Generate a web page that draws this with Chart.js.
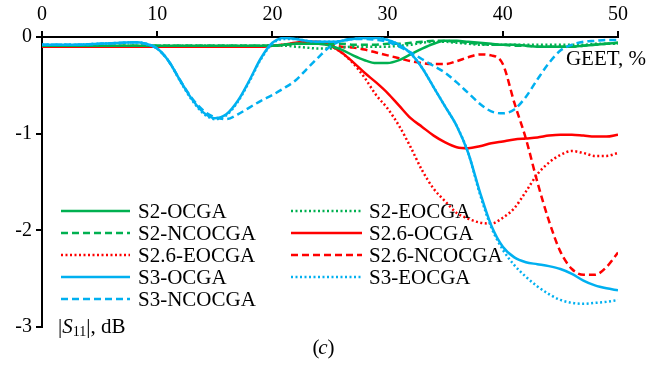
<!DOCTYPE html>
<html>
<head>
<meta charset="utf-8">
<script src="https://cdn.jsdelivr.net/npm/chart.js"></script>
<style>
  body { margin: 0; background: #fff; }
  #wrap { width: 646px; height: 371px; }
</style>
</head>
<body>
<div id="wrap"><canvas id="myChart" width="646" height="371"></canvas></div>
<script>
// GEET, % (x axis), sampled every 1 %
const geet = [];
for (let i = 0; i <= 50; i++) geet.push(i);

// |S11|, dB
const s2Ocga = [-0.09,-0.09,-0.09,-0.09,-0.09,-0.09,-0.09,-0.09,-0.09,-0.09,
  -0.09,-0.09,-0.09,-0.09,-0.09,-0.09,-0.09,-0.09,-0.09,-0.09,
  -0.09,-0.08,-0.07,-0.07,-0.07,-0.09,-0.13,-0.19,-0.24,-0.27,
  -0.27,-0.24,-0.18,-0.12,-0.07,-0.04,-0.04,-0.05,-0.06,-0.07,
  -0.08,-0.08,-0.09,-0.1,-0.1,-0.1,-0.1,-0.09,-0.08,-0.07,-0.06];
const s2Eocga = [-0.09,-0.09,-0.09,-0.09,-0.09,-0.09,-0.09,-0.09,-0.09,-0.09,
  -0.09,-0.09,-0.09,-0.09,-0.09,-0.09,-0.09,-0.09,-0.09,-0.09,
  -0.09,-0.09,-0.1,-0.11,-0.12,-0.12,-0.11,-0.1,-0.1,-0.1,
  -0.1,-0.09,-0.08,-0.06,-0.05,-0.05,-0.06,-0.07,-0.08,-0.08,
  -0.08,-0.08,-0.08,-0.08,-0.08,-0.08,-0.08,-0.08,-0.07,-0.07,-0.07];
const s2Ncocga = [-0.09,-0.09,-0.09,-0.09,-0.09,-0.09,-0.09,-0.09,-0.09,-0.09,
  -0.09,-0.09,-0.09,-0.09,-0.09,-0.09,-0.09,-0.09,-0.09,-0.09,
  -0.09,-0.08,-0.07,-0.07,-0.07,-0.07,-0.07,-0.08,-0.08,-0.08,
  -0.07,-0.07,-0.06,-0.05,-0.04,-0.04,-0.05,-0.06,-0.07,-0.08,
  -0.08,-0.09,-0.09,-0.1,-0.1,-0.1,-0.1,-0.09,-0.08,-0.07,-0.06];
const s26Ocga = [-0.1,-0.1,-0.1,-0.1,-0.1,-0.1,-0.1,-0.1,-0.1,-0.1,
  -0.1,-0.1,-0.1,-0.1,-0.1,-0.1,-0.1,-0.1,-0.1,-0.1,
  -0.09,-0.08,-0.06,-0.05,-0.05,-0.09,-0.16,-0.26,-0.37,-0.47,
  -0.58,-0.71,-0.84,-0.93,-1.02,-1.09,-1.14,-1.15,-1.13,-1.1,
  -1.08,-1.06,-1.05,-1.04,-1.02,-1.01,-1.01,-1.02,-1.03,-1.03,-1.01];
const s26Eocga = [-0.1,-0.1,-0.1,-0.1,-0.1,-0.1,-0.1,-0.1,-0.1,-0.1,
  -0.1,-0.1,-0.1,-0.1,-0.1,-0.1,-0.1,-0.1,-0.1,-0.1,
  -0.09,-0.08,-0.07,-0.06,-0.06,-0.09,-0.16,-0.27,-0.42,-0.6,
  -0.74,-0.92,-1.14,-1.38,-1.57,-1.7,-1.82,-1.88,-1.92,-1.93,
  -1.87,-1.77,-1.6,-1.42,-1.3,-1.22,-1.18,-1.2,-1.23,-1.23,-1.2];
const s26Ncocga = [-0.1,-0.1,-0.1,-0.1,-0.1,-0.1,-0.1,-0.1,-0.1,-0.1,
  -0.1,-0.1,-0.1,-0.1,-0.1,-0.1,-0.1,-0.1,-0.1,-0.1,
  -0.09,-0.08,-0.07,-0.07,-0.07,-0.08,-0.1,-0.11,-0.13,-0.16,
  -0.19,-0.22,-0.25,-0.27,-0.28,-0.28,-0.25,-0.21,-0.18,-0.19,
  -0.28,-0.68,-1.05,-1.5,-1.9,-2.22,-2.4,-2.46,-2.46,-2.38,-2.23];
const s3Ocga = [-0.08,-0.08,-0.08,-0.08,-0.075,-0.07,-0.065,-0.06,-0.055,-0.07,
  -0.12,-0.25,-0.45,-0.64,-0.78,-0.84,-0.8,-0.66,-0.45,-0.22,
  -0.06,-0.01,-0.02,-0.04,-0.05,-0.05,-0.04,-0.02,-0.01,-0.01,
  -0.03,-0.08,-0.17,-0.32,-0.52,-0.72,-0.92,-1.2,-1.6,-1.95,
  -2.17,-2.28,-2.33,-2.35,-2.37,-2.4,-2.45,-2.52,-2.57,-2.6,-2.62];
const s3Eocga = [-0.08,-0.08,-0.08,-0.08,-0.075,-0.07,-0.065,-0.06,-0.055,-0.07,
  -0.12,-0.25,-0.46,-0.65,-0.79,-0.85,-0.81,-0.67,-0.46,-0.23,
  -0.07,-0.02,-0.02,-0.04,-0.05,-0.05,-0.04,-0.02,-0.01,-0.01,
  -0.03,-0.08,-0.17,-0.32,-0.52,-0.72,-0.92,-1.2,-1.62,-1.97,
  -2.2,-2.36,-2.48,-2.58,-2.66,-2.72,-2.75,-2.76,-2.75,-2.74,-2.72];
const s3Ncocga = [-0.08,-0.08,-0.08,-0.08,-0.075,-0.07,-0.065,-0.06,-0.055,-0.07,
  -0.12,-0.25,-0.45,-0.63,-0.76,-0.83,-0.85,-0.8,-0.73,-0.66,
  -0.6,-0.53,-0.45,-0.33,-0.21,-0.1,-0.04,-0.02,-0.02,-0.03,
  -0.05,-0.1,-0.16,-0.23,-0.3,-0.37,-0.47,-0.58,-0.69,-0.77,
  -0.79,-0.75,-0.62,-0.44,-0.27,-0.14,-0.08,-0.05,-0.04,-0.03,-0.03];

const seriesNames = ['S2-OCGA', 'S2-EOCGA', 'S2-NCOCGA', 'S2.6-OCGA', 'S2.6-EOCGA',
  'S2.6-NCOCGA', 'S3-OCGA', 'S3-EOCGA', 'S3-NCOCGA'];
const seriesValues = [s2Ocga, s2Eocga, s2Ncocga, s26Ocga, s26Eocga, s26Ncocga, s3Ocga, s3Eocga, s3Ncocga];
const xTicks = [0, 10, 20, 30, 40, 50];
const yTicks = [0, -1, -2, -3];

const GREEN = '#00b050', RED = '#ff0000', BLUE = '#00b0f0';
const colors = [GREEN, GREEN, GREEN, RED, RED, RED, BLUE, BLUE, BLUE];
const dashes = [[], [2, 2.5], [7, 4], [], [2, 2.5], [7, 4], [], [2, 2.5], [7, 4]];
const SERIF = '"Liberation Serif", "Times New Roman", serif';

const datasets = seriesNames.map((name, i) => ({
  label: name,
  data: geet.map((x, j) => ({ x: x, y: seriesValues[i][j] })),
  borderColor: colors[i],
  backgroundColor: colors[i],
  borderDash: dashes[i],
  borderWidth: 2.5,
  pointRadius: 0,
  cubicInterpolationMode: 'monotone',
  fill: false,
  order: i < 6 ? 2 : 1
}));

// legend drawn inside the plot area plus the axis captions
const decorations = {
  id: 'decorations',
  afterDraw(chart) {
    const ctx = chart.ctx;
    ctx.save();
    ctx.font = '21px ' + SERIF;
    ctx.fillStyle = '#000';
    ctx.textBaseline = 'middle';
    const cols = [{ x0: 61, x1: 130, tx: 138 }, { x0: 291, x1: 362, tx: 369 }];
    chart.data.datasets.forEach((ds, i) => {
      const col = cols[i % 2];
      const y = 211 + Math.floor(i / 2) * 22;
      ctx.strokeStyle = ds.borderColor;
      ctx.lineWidth = ds.borderWidth;
      ctx.setLineDash(ds.borderDash);
      ctx.beginPath();
      ctx.moveTo(col.x0, y);
      ctx.lineTo(col.x1, y);
      ctx.stroke();
      ctx.setLineDash([]);
      ctx.fillText(ds.label, col.tx, y + 1);
    });

    // x axis title
    ctx.textAlign = 'right';
    ctx.fillText('GEET, %', 646, 59);

    // y axis title |S11|, dB
    ctx.textAlign = 'left';
    let x = 58;
    const yb = 327;
    ctx.fillText('|', x, yb); x += ctx.measureText('|').width;
    ctx.font = 'italic 21px ' + SERIF;
    ctx.fillText('S', x, yb); x += ctx.measureText('S').width;
    ctx.font = '14px ' + SERIF;
    ctx.fillText('11', x, yb + 5); x += ctx.measureText('11').width;
    ctx.font = '21px ' + SERIF;
    ctx.fillText('|, dB', x, yb);

    // panel label
    ctx.textAlign = 'center';
    ctx.fillText('(', 316, 348);
    ctx.fillText(')', 331, 348);
    ctx.font = 'italic 21px ' + SERIF;
    ctx.fillText('c', 323, 348);
    ctx.restore();
  }
};

new Chart(document.getElementById('myChart'), {
  type: 'line',
  data: { datasets: datasets },
  options: {
    responsive: false,
    animation: false,
    layout: { padding: { top: 0, left: 0, right: 28, bottom: 44 } },
    plugins: { legend: { display: false }, tooltip: { enabled: false } },
    scales: {
      x: {
        type: 'linear',
        position: 'top',
        min: 0,
        max: 50,
        afterBuildTicks: (scale) => { scale.ticks = xTicks.map(v => ({ value: v })); },
        afterFit: (scale) => { scale.height = 37; },
        grid: { drawOnChartArea: false, drawTicks: true, tickLength: 6, color: '#000', lineWidth: 2 },
        border: { color: '#000', width: 2 },
        ticks: { color: '#000', padding: 4, maxRotation: 0, font: { family: SERIF, size: 20 } }
      },
      y: {
        type: 'linear',
        min: -3,
        max: 0,
        afterBuildTicks: (scale) => { scale.ticks = yTicks.map(v => ({ value: v })); },
        afterFit: (scale) => { scale.width = 42; },
        grid: { drawOnChartArea: false, drawTicks: true, tickLength: 6, color: '#000', lineWidth: 2 },
        border: { color: '#000', width: 2 },
        ticks: { color: '#000', padding: 4, font: { family: SERIF, size: 20 } }
      }
    }
  },
  plugins: [decorations]
});
</script>
</body>
</html>
